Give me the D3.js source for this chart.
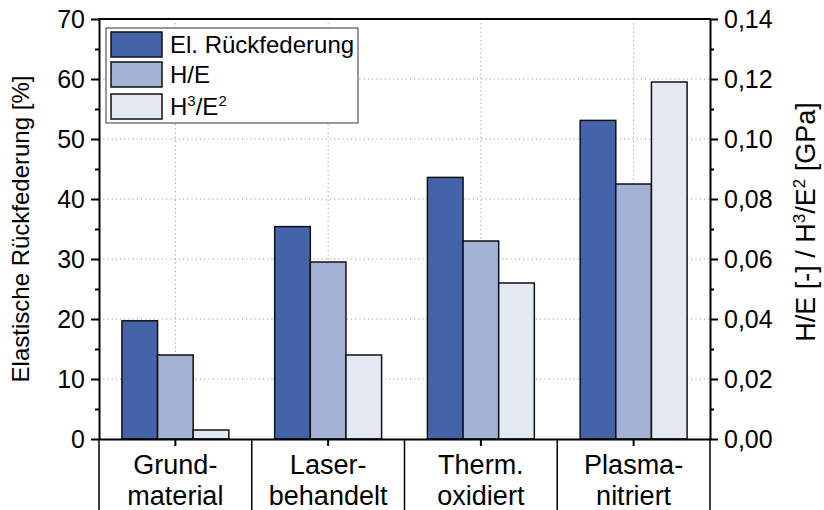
<!DOCTYPE html>
<html>
<head>
<meta charset="utf-8" />
<style>
  body { margin: 0; background: #fff; }
  svg { display: block; }
  text { font-family: "Liberation Sans", Arial, sans-serif; fill: #000; }
</style>
</head>
<body>
<svg id="chart" width="824" height="510"></svg>
<script src="https://cdn.jsdelivr.net/npm/d3@7"></script>
<script>
// data
var categories = ['Grundmaterial', 'Laserbehandelt', 'Therm. oxidiert', 'Plasmanitriert'];
var categoryLines = [['Grund-', 'material'], ['Laser-', 'behandelt'], ['Therm.', 'oxidiert'], ['Plasma-', 'nitriert']];
var seriesNames = ['El. Rückfederung', 'H/E', 'H3/E2'];
var elastic = [19.7, 35.4, 43.6, 53.1];      // left axis [%]
var hOverE = [0.028, 0.059, 0.066, 0.085];   // right axis
var h3OverE2 = [0.003, 0.028, 0.052, 0.119]; // right axis
var leftTicks = [0, 10, 20, 30, 40, 50, 60, 70];
var rightTicks = [0, 0.02, 0.04, 0.06, 0.08, 0.10, 0.12, 0.14];

var colors = ['#4563a9', '#a3b1d5', '#e3e8f3'];

var svg = d3.select('#chart');
var pLeft = 99, pRight = 710, pTop = 19, pBottom = 439;

var x0 = d3.scaleBand().domain(categories).range([pLeft, pRight]);
var bw = x0.bandwidth();
var x1 = d3.scaleBand().domain(seriesNames).range([bw * 0.15, bw * 0.85]);
var yL = d3.scaleLinear().domain([0, 70]).range([pBottom, pTop]);
var yR = d3.scaleLinear().domain([0, 0.14]).range([pBottom, pTop]);

// grid
var grid = svg.append('g');
grid.selectAll('.hgrid')
    .data(leftTicks.slice(1, -1))
    .enter().append('line')
    .attr('x1', pLeft).attr('x2', pRight)
    .attr('y1', function(d){ return yL(d); })
    .attr('y2', function(d){ return yL(d); })
    .attr('stroke', '#9a9a9a').attr('stroke-width', 1).attr('stroke-dasharray', '1.2,3');
grid.selectAll('.vgrid')
    .data(categories)
    .enter().append('line')
    .attr('x1', function(d){ return x0(d) + bw / 2; })
    .attr('x2', function(d){ return x0(d) + bw / 2; })
    .attr('y1', pTop).attr('y2', pBottom)
    .attr('stroke', '#9a9a9a').attr('stroke-width', 1).attr('stroke-dasharray', '1.2,3');

// bars
var rows = categories.map(function(c, i){
    return [
        { cat: c, s: seriesNames[0], y: yL(elastic[i]), c: colors[0] },
        { cat: c, s: seriesNames[1], y: yR(hOverE[i]), c: colors[1] },
        { cat: c, s: seriesNames[2], y: yR(h3OverE2[i]), c: colors[2] }
    ];
});
svg.append('g').selectAll('g')
    .data(rows)
    .enter().append('g')
    .selectAll('rect')
    .data(function(d){ return d; })
    .enter().append('rect')
    .attr('x', function(d){ return x0(d.cat) + x1(d.s); })
    .attr('width', x1.bandwidth())
    .attr('y', function(d){ return d.y; })
    .attr('height', function(d){ return pBottom - d.y; })
    .attr('fill', function(d){ return d.c; })
    .attr('stroke', '#111').attr('stroke-width', 1.5);

// axes
function styleAxis(g){
    g.selectAll('path').attr('stroke', '#000').attr('stroke-width', 2);
    g.selectAll('line').attr('stroke', '#000').attr('stroke-width', 2);
    g.selectAll('text').style('font-size', '25px').style('font-family', '"Liberation Sans", Arial, sans-serif');
}
var comma = function(d){ return d3.format('.2f')(d).replace('.', ','); };

var gl = svg.append('g').attr('transform', 'translate(' + pLeft + ',0)')
    .call(d3.axisLeft(yL).tickValues(leftTicks).tickSize(8).tickSizeOuter(0).tickPadding(6));
styleAxis(gl);
svg.append('g').attr('transform', 'translate(' + pLeft + ',0)')
    .call(d3.axisLeft(yL).tickValues([5, 15, 25, 35, 45, 55, 65]).tickSize(4).tickFormat(''))
    .call(function(g){ g.select('path').remove(); g.selectAll('line').attr('stroke', '#000').attr('stroke-width', 2); });

var gr = svg.append('g').attr('transform', 'translate(' + pRight + ',0)')
    .call(d3.axisRight(yR).tickValues(rightTicks).tickSize(8).tickSizeOuter(0).tickPadding(6).tickFormat(comma));
styleAxis(gr);
svg.append('g').attr('transform', 'translate(' + pRight + ',0)')
    .call(d3.axisRight(yR).tickValues([0.01, 0.03, 0.05, 0.07, 0.09, 0.11, 0.13]).tickSize(4).tickFormat(''))
    .call(function(g){ g.select('path').remove(); g.selectAll('line').attr('stroke', '#000').attr('stroke-width', 2); });

var gb = svg.append('g').attr('transform', 'translate(0,' + pBottom + ')')
    .call(d3.axisBottom(x0).tickSize(7).tickSizeOuter(0).tickFormat(''));
styleAxis(gb);

// top frame line
svg.append('line').attr('x1', pLeft - 1).attr('x2', pRight + 1).attr('y1', pTop).attr('y2', pTop)
    .attr('stroke', '#000').attr('stroke-width', 2);

// category dividers below the axis
var bounds = categories.map(function(c){ return x0(c); }).concat([pRight]);
svg.append('g').selectAll('line')
    .data(bounds)
    .enter().append('line')
    .attr('x1', function(d){ return d; }).attr('x2', function(d){ return d; })
    .attr('y1', pBottom).attr('y2', 510)
    .attr('stroke', '#000').attr('stroke-width', 1.5);

// category labels
var cl = svg.append('g').selectAll('text')
    .data(categories)
    .enter().append('text')
    .attr('text-anchor', 'middle')
    .style('font-size', '27px');
cl.append('tspan')
    .attr('x', function(d){ return x0(d) + bw / 2; })
    .attr('y', 474)
    .text(function(d, i){ return categoryLines[i][0]; });
cl.append('tspan')
    .attr('x', function(d){ return x0(d) + bw / 2; })
    .attr('y', 505)
    .text(function(d, i){ return categoryLines[i][1]; });

// axis titles
svg.append('text')
    .attr('transform', 'translate(29,229) rotate(-90)')
    .attr('text-anchor', 'middle')
    .style('font-size', '24px')
    .text('Elastische Rückfederung [%]');

var rt = svg.append('text')
    .attr('transform', 'translate(815,222) rotate(-90)')
    .attr('text-anchor', 'middle')
    .style('font-size', '27px');
rt.append('tspan').text('H/E [-] / H');
rt.append('tspan').attr('dy', -10).style('font-size', '17px').text('3');
rt.append('tspan').attr('dy', 10).text('/E');
rt.append('tspan').attr('dy', -10).style('font-size', '17px').text('2');
rt.append('tspan').attr('dy', 10).text(' [GPa]');

// legend
var lg = svg.append('g');
lg.append('rect').attr('x', 106).attr('y', 28).attr('width', 252).attr('height', 95)
    .attr('fill', '#fff').attr('stroke', '#333').attr('stroke-width', 1);
var items = lg.selectAll('.item')
    .data(seriesNames)
    .enter().append('g')
    .attr('transform', function(d, i){ return 'translate(111,' + [32, 62, 94][i] + ')'; });
items.append('rect')
    .attr('width', 51).attr('height', 25)
    .attr('fill', function(d, i){ return colors[i]; })
    .attr('stroke', '#111').attr('stroke-width', 1.5);
var lt = items.append('text')
    .attr('x', 59).attr('y', 21)
    .style('font-size', '24px');
lt.each(function(d){
    var t = d3.select(this);
    if (d === 'H3/E2') {
        t.append('tspan').text('H');
        t.append('tspan').attr('dy', -9).style('font-size', '15px').text('3');
        t.append('tspan').attr('dy', 9).text('/E');
        t.append('tspan').attr('dy', -9).style('font-size', '15px').text('2');
    } else {
        t.text(d);
    }
});
</script>
</body>
</html>
